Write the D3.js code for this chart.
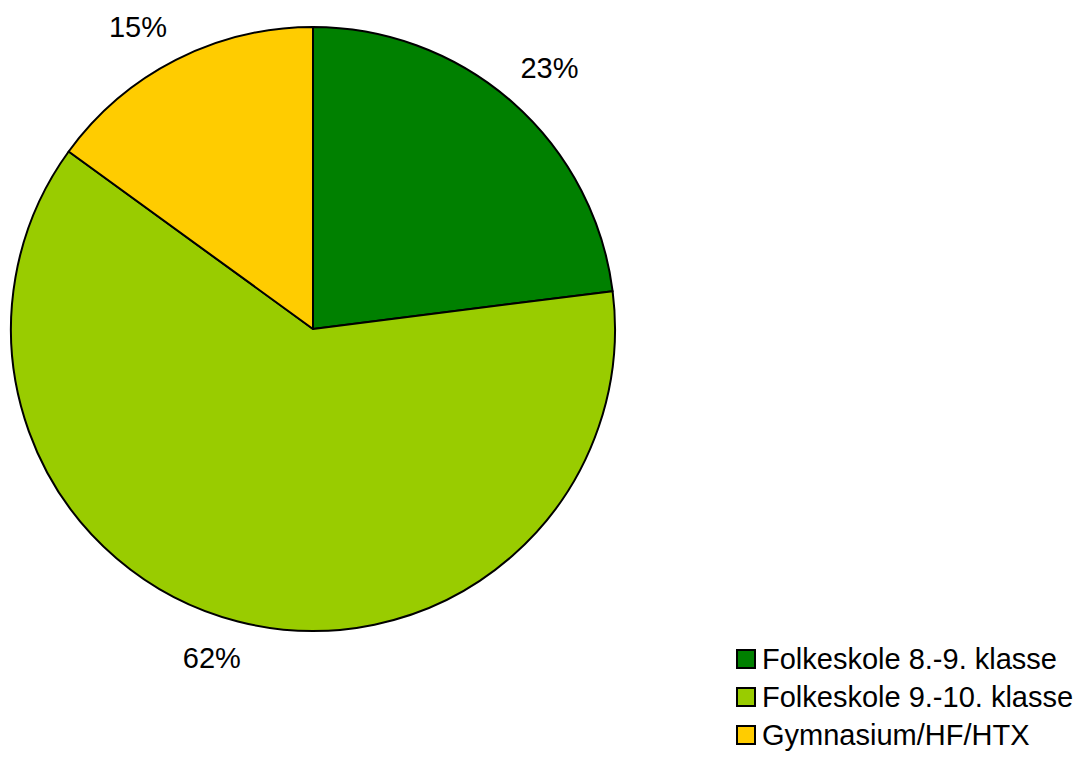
<!DOCTYPE html>
<html>
<head>
<meta charset="utf-8">
<script src="https://cdn.jsdelivr.net/npm/d3@7"></script>
<style>
  body { margin: 0; background: #fff; }
  svg { display: block; }
  text { font-family: "Liberation Sans", Arial, sans-serif; fill: #000; }
</style>
</head>
<body>
<svg id="chart" width="1082" height="761"></svg>
<script>
const categories = ["Folkeskole 8.-9. klasse", "Folkeskole 9.-10. klasse", "Gymnasium/HF/HTX"];
const values = [23, 62, 15];
const labels = ["23%", "62%", "15%"];
const colors = ["#008000", "#99cc00", "#ffcc00"];

const svg = d3.select("#chart");
const cx = 313, cy = 329, r = 302;

// label placement tweaks (layout only): radius and angle nudge (degrees) per slice
const labelRadius = [352, 344, 349];
const labelNudge = [0.8, 2.7, -3.1];

const pie = d3.pie().sort(null).value(d => d.v);
const data = pie(categories.map((c, i) => ({ c, v: values[i], l: labels[i], col: colors[i] })));

const arc = d3.arc().innerRadius(0).outerRadius(r);

const g = svg.append("g").attr("transform", `translate(${cx},${cy})`);
g.selectAll("path").data(data).join("path")
  .attr("d", arc)
  .attr("fill", d => d.data.col)
  .attr("stroke", "#000")
  .attr("stroke-width", 2)
  .attr("stroke-linejoin", "round");

g.selectAll("text.lbl").data(data).join("text")
  .attr("class", "lbl")
  .attr("transform", (d, i) => {
    const a = (d.startAngle + d.endAngle) / 2 + labelNudge[i] * Math.PI / 180;
    const R = labelRadius[i];
    return `translate(${R * Math.sin(a)},${-R * Math.cos(a)})`;
  })
  .attr("text-anchor", "middle")
  .attr("dy", "0.35em")
  .style("font-size", "29px")
  .text(d => d.data.l);

const leg = svg.append("g").attr("transform", "translate(737,650)");
const rows = leg.selectAll("g").data(categories).join("g")
  .attr("transform", (d, i) => `translate(0,${i * 38})`);
rows.append("rect")
  .attr("x", 0).attr("y", 0).attr("width", 18).attr("height", 18)
  .attr("fill", (d, i) => colors[i])
  .attr("stroke", "#000").attr("stroke-width", 2);
rows.append("text")
  .attr("x", 25).attr("y", 19)
  .style("font-size", "29px")
  .text(d => d);
</script>
</body>
</html>
